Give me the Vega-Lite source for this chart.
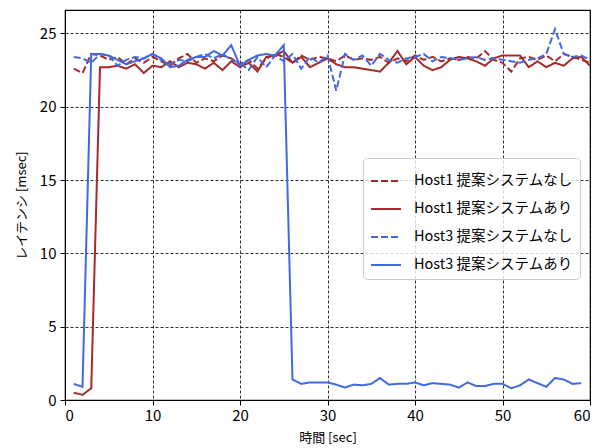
{
  "$schema": "https://vega.github.io/schema/vega-lite/v6.json",
  "width": 525,
  "height": 390,
  "autosize": {"type": "none"},
  "padding": {"left": 65, "top": 10, "right": 18, "bottom": 48},
  "background": "white",
  "config": {
    "font": "Noto Sans CJK JP",
    "view": {"stroke": "black", "strokeWidth": 1.2},
    "axis": {
      "domainColor": "black",
      "tickColor": "black",
      "labelColor": "black",
      "titleColor": "black",
      "labelFont": "Noto Sans CJK JP",
      "titleFont": "Noto Sans CJK JP",
      "labelFontSize": 15,
      "titleFontSize": 13,
      "titleFontWeight": "normal",
      "gridColor": "black",
      "gridDash": [3, 2],
      "gridOpacity": 0.9,
      "gridWidth": 0.9,
      "tickSize": 5
    }
  },
  "data": {"values": [
    {"x":1,"s":"Host1 提案システムなし","y":22.6},{"x":2,"s":"Host1 提案システムなし","y":22.3},{"x":3,"s":"Host1 提案システムなし","y":23.6},{"x":4,"s":"Host1 提案システムなし","y":23.5},{"x":5,"s":"Host1 提案システムなし","y":23.2},{"x":6,"s":"Host1 提案システムなし","y":23.4},{"x":7,"s":"Host1 提案システムなし","y":22.9},{"x":8,"s":"Host1 提案システムなし","y":23.3},{"x":9,"s":"Host1 提案システムなし","y":23.0},{"x":10,"s":"Host1 提案システムなし","y":23.4},{"x":11,"s":"Host1 提案システムなし","y":23.1},{"x":12,"s":"Host1 提案システムなし","y":22.8},{"x":13,"s":"Host1 提案システムなし","y":23.3},{"x":14,"s":"Host1 提案システムなし","y":23.6},{"x":15,"s":"Host1 提案システムなし","y":23.0},{"x":16,"s":"Host1 提案システムなし","y":23.3},{"x":17,"s":"Host1 提案システムなし","y":23.1},{"x":18,"s":"Host1 提案システムなし","y":23.5},{"x":19,"s":"Host1 提案システムなし","y":23.3},{"x":20,"s":"Host1 提案システムなし","y":22.9},{"x":21,"s":"Host1 提案システムなし","y":23.2},{"x":22,"s":"Host1 提案システムなし","y":22.6},{"x":23,"s":"Host1 提案システムなし","y":23.3},{"x":24,"s":"Host1 提案システムなし","y":23.6},{"x":25,"s":"Host1 提案システムなし","y":23.4},{"x":26,"s":"Host1 提案システムなし","y":23.0},{"x":27,"s":"Host1 提案システムなし","y":23.5},{"x":28,"s":"Host1 提案システムなし","y":23.2},{"x":29,"s":"Host1 提案システムなし","y":23.4},{"x":30,"s":"Host1 提案システムなし","y":23.3},{"x":31,"s":"Host1 提案システムなし","y":23.1},{"x":32,"s":"Host1 提案システムなし","y":23.5},{"x":33,"s":"Host1 提案システムなし","y":23.2},{"x":34,"s":"Host1 提案システムなし","y":23.3},{"x":35,"s":"Host1 提案システムなし","y":23.2},{"x":36,"s":"Host1 提案システムなし","y":23.4},{"x":37,"s":"Host1 提案システムなし","y":23.0},{"x":38,"s":"Host1 提案システムなし","y":23.3},{"x":39,"s":"Host1 提案システムなし","y":23.1},{"x":40,"s":"Host1 提案システムなし","y":23.5},{"x":41,"s":"Host1 提案システムなし","y":23.2},{"x":42,"s":"Host1 提案システムなし","y":23.4},{"x":43,"s":"Host1 提案システムなし","y":23.1},{"x":44,"s":"Host1 提案システムなし","y":23.3},{"x":45,"s":"Host1 提案システムなし","y":23.2},{"x":46,"s":"Host1 提案システムなし","y":23.4},{"x":47,"s":"Host1 提案システムなし","y":23.3},{"x":48,"s":"Host1 提案システムなし","y":23.8},{"x":49,"s":"Host1 提案システムなし","y":23.2},{"x":50,"s":"Host1 提案システムなし","y":23.0},{"x":51,"s":"Host1 提案システムなし","y":22.4},{"x":52,"s":"Host1 提案システムなし","y":23.3},{"x":53,"s":"Host1 提案システムなし","y":23.4},{"x":54,"s":"Host1 提案システムなし","y":23.2},{"x":55,"s":"Host1 提案システムなし","y":23.5},{"x":56,"s":"Host1 提案システムなし","y":23.1},{"x":57,"s":"Host1 提案システムなし","y":23.6},{"x":58,"s":"Host1 提案システムなし","y":23.4},{"x":59,"s":"Host1 提案システムなし","y":23.2},{"x":60,"s":"Host1 提案システムなし","y":23.0},
    {"x":1,"s":"Host1 提案システムあり","y":0.5},{"x":2,"s":"Host1 提案システムあり","y":0.35},{"x":3,"s":"Host1 提案システムあり","y":0.8},{"x":4,"s":"Host1 提案システムあり","y":22.7},{"x":5,"s":"Host1 提案システムあり","y":22.7},{"x":6,"s":"Host1 提案システムあり","y":22.8},{"x":7,"s":"Host1 提案システムあり","y":22.6},{"x":8,"s":"Host1 提案システムあり","y":22.9},{"x":9,"s":"Host1 提案システムあり","y":22.3},{"x":10,"s":"Host1 提案システムあり","y":22.8},{"x":11,"s":"Host1 提案システムあり","y":22.7},{"x":12,"s":"Host1 提案システムあり","y":23.1},{"x":13,"s":"Host1 提案システムあり","y":22.7},{"x":14,"s":"Host1 提案システムあり","y":23.0},{"x":15,"s":"Host1 提案システムあり","y":22.9},{"x":16,"s":"Host1 提案システムあり","y":22.6},{"x":17,"s":"Host1 提案システムあり","y":23.0},{"x":18,"s":"Host1 提案システムあり","y":22.5},{"x":19,"s":"Host1 提案システムあり","y":23.1},{"x":20,"s":"Host1 提案システムあり","y":22.7},{"x":21,"s":"Host1 提案システムあり","y":23.0},{"x":22,"s":"Host1 提案システムあり","y":22.4},{"x":23,"s":"Host1 提案システムあり","y":23.4},{"x":24,"s":"Host1 提案システムあり","y":23.5},{"x":25,"s":"Host1 提案システムあり","y":23.8},{"x":26,"s":"Host1 提案システムあり","y":23.0},{"x":27,"s":"Host1 提案システムあり","y":23.4},{"x":28,"s":"Host1 提案システムあり","y":22.7},{"x":29,"s":"Host1 提案システムあり","y":23.0},{"x":30,"s":"Host1 提案システムあり","y":23.3},{"x":31,"s":"Host1 提案システムあり","y":22.9},{"x":32,"s":"Host1 提案システムあり","y":22.7},{"x":33,"s":"Host1 提案システムあり","y":22.7},{"x":34,"s":"Host1 提案システムあり","y":22.6},{"x":35,"s":"Host1 提案システムあり","y":22.5},{"x":36,"s":"Host1 提案システムあり","y":22.4},{"x":37,"s":"Host1 提案システムあり","y":23.0},{"x":38,"s":"Host1 提案システムあり","y":23.8},{"x":39,"s":"Host1 提案システムあり","y":22.9},{"x":40,"s":"Host1 提案システムあり","y":23.4},{"x":41,"s":"Host1 提案システムあり","y":22.8},{"x":42,"s":"Host1 提案システムあり","y":22.5},{"x":43,"s":"Host1 提案システムあり","y":22.7},{"x":44,"s":"Host1 提案システムあり","y":23.2},{"x":45,"s":"Host1 提案システムあり","y":23.4},{"x":46,"s":"Host1 提案システムあり","y":23.3},{"x":47,"s":"Host1 提案システムあり","y":23.1},{"x":48,"s":"Host1 提案システムあり","y":22.8},{"x":49,"s":"Host1 提案システムあり","y":23.3},{"x":50,"s":"Host1 提案システムあり","y":23.5},{"x":51,"s":"Host1 提案システムあり","y":23.5},{"x":52,"s":"Host1 提案システムあり","y":23.5},{"x":53,"s":"Host1 提案システムあり","y":22.7},{"x":54,"s":"Host1 提案システムあり","y":23.1},{"x":55,"s":"Host1 提案システムあり","y":22.7},{"x":56,"s":"Host1 提案システムあり","y":23.0},{"x":57,"s":"Host1 提案システムあり","y":22.8},{"x":58,"s":"Host1 提案システムあり","y":23.3},{"x":59,"s":"Host1 提案システムあり","y":23.4},{"x":60,"s":"Host1 提案システムあり","y":22.8},
    {"x":1,"s":"Host3 提案システムなし","y":23.4},{"x":2,"s":"Host3 提案システムなし","y":23.3},{"x":3,"s":"Host3 提案システムなし","y":23.0},{"x":4,"s":"Host3 提案システムなし","y":23.6},{"x":5,"s":"Host3 提案システムなし","y":23.5},{"x":6,"s":"Host3 提案システムなし","y":22.8},{"x":7,"s":"Host3 提案システムなし","y":23.2},{"x":8,"s":"Host3 提案システムなし","y":23.4},{"x":9,"s":"Host3 提案システムなし","y":23.3},{"x":10,"s":"Host3 提案システムなし","y":23.6},{"x":11,"s":"Host3 提案システムなし","y":23.2},{"x":12,"s":"Host3 提案システムなし","y":22.9},{"x":13,"s":"Host3 提案システムなし","y":23.2},{"x":14,"s":"Host3 提案システムなし","y":23.1},{"x":15,"s":"Host3 提案システムなし","y":23.4},{"x":16,"s":"Host3 提案システムなし","y":23.6},{"x":17,"s":"Host3 提案システムなし","y":23.3},{"x":18,"s":"Host3 提案システムなし","y":23.6},{"x":19,"s":"Host3 提案システムなし","y":23.2},{"x":20,"s":"Host3 提案システムなし","y":23.0},{"x":21,"s":"Host3 提案システムなし","y":22.5},{"x":22,"s":"Host3 提案システムなし","y":23.4},{"x":23,"s":"Host3 提案システムなし","y":22.7},{"x":24,"s":"Host3 提案システムなし","y":23.5},{"x":25,"s":"Host3 提案システムなし","y":23.1},{"x":26,"s":"Host3 提案システムなし","y":23.6},{"x":27,"s":"Host3 提案システムなし","y":22.6},{"x":28,"s":"Host3 提案システムなし","y":23.4},{"x":29,"s":"Host3 提案システムなし","y":23.0},{"x":30,"s":"Host3 提案システムなし","y":23.5},{"x":31,"s":"Host3 提案システムなし","y":21.1},{"x":32,"s":"Host3 提案システムなし","y":23.6},{"x":33,"s":"Host3 提案システムなし","y":23.2},{"x":34,"s":"Host3 提案システムなし","y":23.5},{"x":35,"s":"Host3 提案システムなし","y":22.8},{"x":36,"s":"Host3 提案システムなし","y":23.6},{"x":37,"s":"Host3 提案システムなし","y":23.2},{"x":38,"s":"Host3 提案システムなし","y":23.0},{"x":39,"s":"Host3 提案システムなし","y":23.3},{"x":40,"s":"Host3 提案システムなし","y":23.4},{"x":41,"s":"Host3 提案システムなし","y":23.6},{"x":42,"s":"Host3 提案システムなし","y":23.1},{"x":43,"s":"Host3 提案システムなし","y":23.4},{"x":44,"s":"Host3 提案システムなし","y":23.3},{"x":45,"s":"Host3 提案システムなし","y":23.2},{"x":46,"s":"Host3 提案システムなし","y":23.3},{"x":47,"s":"Host3 提案システムなし","y":23.4},{"x":48,"s":"Host3 提案システムなし","y":23.2},{"x":49,"s":"Host3 提案システムなし","y":23.3},{"x":50,"s":"Host3 提案システムなし","y":23.2},{"x":51,"s":"Host3 提案システムなし","y":23.1},{"x":52,"s":"Host3 提案システムなし","y":23.0},{"x":53,"s":"Host3 提案システムなし","y":23.2},{"x":54,"s":"Host3 提案システムなし","y":23.3},{"x":55,"s":"Host3 提案システムなし","y":23.6},{"x":56,"s":"Host3 提案システムなし","y":25.3},{"x":57,"s":"Host3 提案システムなし","y":23.6},{"x":58,"s":"Host3 提案システムなし","y":23.4},{"x":59,"s":"Host3 提案システムなし","y":23.5},{"x":60,"s":"Host3 提案システムなし","y":23.2},
    {"x":1,"s":"Host3 提案システムあり","y":1.1},{"x":2,"s":"Host3 提案システムあり","y":0.9},{"x":3,"s":"Host3 提案システムあり","y":23.6},{"x":4,"s":"Host3 提案システムあり","y":23.6},{"x":5,"s":"Host3 提案システムあり","y":23.5},{"x":6,"s":"Host3 提案システムあり","y":23.2},{"x":7,"s":"Host3 提案システムあり","y":22.9},{"x":8,"s":"Host3 提案システムあり","y":23.1},{"x":9,"s":"Host3 提案システムあり","y":23.3},{"x":10,"s":"Host3 提案システムあり","y":23.6},{"x":11,"s":"Host3 提案システムあり","y":23.3},{"x":12,"s":"Host3 提案システムあり","y":22.7},{"x":13,"s":"Host3 提案システムあり","y":22.8},{"x":14,"s":"Host3 提案システムあり","y":23.2},{"x":15,"s":"Host3 提案システムあり","y":23.4},{"x":16,"s":"Host3 提案システムあり","y":23.4},{"x":17,"s":"Host3 提案システムあり","y":23.8},{"x":18,"s":"Host3 提案システムあり","y":23.5},{"x":19,"s":"Host3 提案システムあり","y":24.2},{"x":20,"s":"Host3 提案システムあり","y":22.8},{"x":21,"s":"Host3 提案システムあり","y":23.2},{"x":22,"s":"Host3 提案システムあり","y":23.5},{"x":23,"s":"Host3 提案システムあり","y":23.6},{"x":24,"s":"Host3 提案システムあり","y":23.5},{"x":25,"s":"Host3 提案システムあり","y":24.2},{"x":26,"s":"Host3 提案システムあり","y":1.4},{"x":27,"s":"Host3 提案システムあり","y":1.1},{"x":28,"s":"Host3 提案システムあり","y":1.2},{"x":29,"s":"Host3 提案システムあり","y":1.2},{"x":30,"s":"Host3 提案システムあり","y":1.2},{"x":31,"s":"Host3 提案システムあり","y":1.05},{"x":32,"s":"Host3 提案システムあり","y":0.85},{"x":33,"s":"Host3 提案システムあり","y":1.05},{"x":34,"s":"Host3 提案システムあり","y":1.0},{"x":35,"s":"Host3 提案システムあり","y":1.1},{"x":36,"s":"Host3 提案システムあり","y":1.5},{"x":37,"s":"Host3 提案システムあり","y":1.05},{"x":38,"s":"Host3 提案システムあり","y":1.1},{"x":39,"s":"Host3 提案システムあり","y":1.1},{"x":40,"s":"Host3 提案システムあり","y":1.2},{"x":41,"s":"Host3 提案システムあり","y":1.0},{"x":42,"s":"Host3 提案システムあり","y":1.15},{"x":43,"s":"Host3 提案システムあり","y":1.1},{"x":44,"s":"Host3 提案システムあり","y":1.05},{"x":45,"s":"Host3 提案システムあり","y":0.85},{"x":46,"s":"Host3 提案システムあり","y":1.2},{"x":47,"s":"Host3 提案システムあり","y":0.95},{"x":48,"s":"Host3 提案システムあり","y":0.95},{"x":49,"s":"Host3 提案システムあり","y":1.1},{"x":50,"s":"Host3 提案システムあり","y":1.1},{"x":51,"s":"Host3 提案システムあり","y":0.8},{"x":52,"s":"Host3 提案システムあり","y":1.0},{"x":53,"s":"Host3 提案システムあり","y":1.4},{"x":54,"s":"Host3 提案システムあり","y":1.15},{"x":55,"s":"Host3 提案システムあり","y":0.9},{"x":56,"s":"Host3 提案システムあり","y":1.5},{"x":57,"s":"Host3 提案システムあり","y":1.4},{"x":58,"s":"Host3 提案システムあり","y":1.1},{"x":59,"s":"Host3 提案システムあり","y":1.15}
  ]},
  "mark": {"type": "line", "strokeWidth": 2, "clip": true},
  "encoding": {
    "x": {"field": "x", "type": "quantitative", "title": "時間 [sec]",
          "scale": {"domain": [0, 60], "nice": false},
          "axis": {"values": [0, 10, 20, 30, 40, 50, 60], "titlePadding": 8, "labelPadding": 3}},
    "y": {"field": "y", "type": "quantitative", "title": "レイテンシ [msec]",
          "scale": {"domain": [0, 26.6], "nice": false},
          "axis": {"values": [0, 5, 10, 15, 20, 25], "titlePadding": 11, "labelPadding": 4}},
    "color": {"field": "s", "type": "nominal", "title": null,
              "scale": {"domain": ["Host1 提案システムなし", "Host1 提案システムあり", "Host3 提案システムなし", "Host3 提案システムあり"],
                        "range": ["#a52a2a", "#a52a2a", "#4169e1", "#4169e1"]},
              "legend": {"orient": "none", "legendX": 298, "legendY": 148,
                         "symbolType": "stroke", "symbolSize": 900, "symbolStrokeWidth": 2,
                         "labelFontSize": 14.5, "labelColor": "black", "labelFont": "Noto Sans CJK JP",
                         "strokeColor": "#cccccc", "fillColor": "rgba(255,255,255,0.8)", "cornerRadius": 4,
                         "padding": 7, "rowPadding": 5, "labelOffset": 12}},
    "strokeDash": {"field": "s", "type": "nominal", "title": null,
                   "scale": {"domain": ["Host1 提案システムなし", "Host1 提案システムあり", "Host3 提案システムなし", "Host3 提案システムあり"],
                             "range": [[7, 3], [1, 0], [7, 3], [1, 0]]}}
  }
}
